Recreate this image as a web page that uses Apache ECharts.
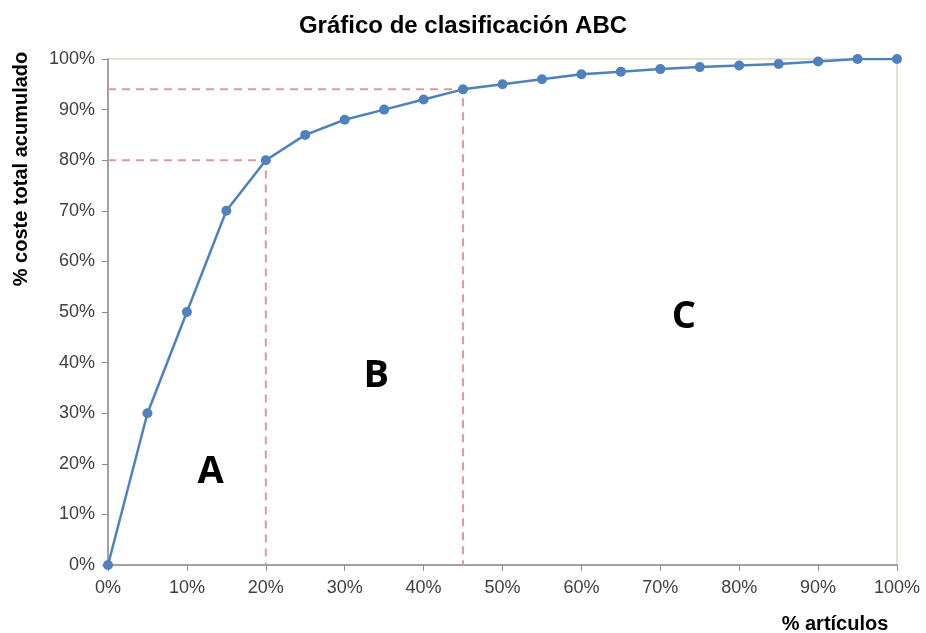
<!DOCTYPE html>
<html>
<head>
<meta charset="utf-8">
<script src="https://cdn.jsdelivr.net/npm/echarts@6/dist/echarts.min.js"></script>
<style>html,body{margin:0;padding:0;background:#fff}#c{width:926px;height:633px}</style>
</head>
<body>
<div id="c"></div>
<script>
// Data
const articlesPct = [0,5,10,15,20,25,30,35,40,45,50,55,60,65,70,75,80,85,90,95,100];
const cumulativeCostPct = [0,30,50,70,80,85,88,90,92,94,95,96,97,97.5,98,98.4,98.7,99,99.5,100,100];
const thresholdsX = [20,45];
const thresholdsY = [80,94];
const zoneLabels = ['A','B','C'];
const zoneLabelX = [13,34,73];
const zoneLabelY = [18.4,37.4,49];
const xTicks = [0,10,20,30,40,50,60,70,80,90,100];
const yTicks = [0,10,20,30,40,50,60,70,80,90,100];

const chart = echarts.init(document.getElementById('c'), null, {renderer:'canvas'});
const font = '"Liberation Sans", Arial, sans-serif';

const dashSeries = thresholdsX.map((tx,i)=>({
  type:'line',
  data:[[0,thresholdsY[i]],[tx,thresholdsY[i]],[tx,0]],
  symbol:'none',
  lineStyle:{color:'#dd9a9a',width:2,type:[8,6]},
  z:1,
  silent:true
}));

chart.setOption({
  animation:false,
  backgroundColor:'#fff',
  title:{
    text:'Gráfico de clasificación ABC',
    left:'center', top:9,
    textStyle:{fontFamily:font,fontSize:24,fontWeight:'bold',color:'#000'}
  },
  grid:{left:108,right:29,top:59,bottom:68,show:true,borderColor:'#ddd9c3',borderWidth:1.5},
  xAxis:{
    type:'value', min:xTicks[0], max:xTicks[xTicks.length-1], interval:10,
    axisLine:{show:true,lineStyle:{color:'#8c8c8c',width:1.5}},
    axisTick:{show:true,length:6,lineStyle:{color:'#8c8c8c'}},
    splitLine:{show:false},
    axisLabel:{formatter:'{value}%',fontFamily:font,fontSize:18,color:'#404040',margin:14}
  },
  yAxis:{
    type:'value', min:yTicks[0], max:yTicks[yTicks.length-1], interval:10,
    axisLine:{show:true,lineStyle:{color:'#8c8c8c',width:1.5}},
    axisTick:{show:true,length:6,lineStyle:{color:'#8c8c8c'}},
    splitLine:{show:false},
    axisLabel:{formatter:'{value}%',fontFamily:font,fontSize:18,color:'#404040',margin:13}
  },
  graphic:[
    {type:'text',x:21,y:169,rotation:Math.PI/2,
     style:{text:'% coste total acumulado',fontFamily:font,fontSize:20,fontWeight:'bold',fill:'#000',align:'center',verticalAlign:'middle'}},
    {type:'text',x:835,y:624,
     style:{text:'% artículos',fontFamily:font,fontSize:20,fontWeight:'bold',fill:'#000',align:'center',verticalAlign:'middle'}}
  ],
  series:[
    ...dashSeries,
    {
      type:'line',
      data:articlesPct.map((x,i)=>[x,cumulativeCostPct[i]]),
      symbol:'circle', symbolSize:10,
      itemStyle:{color:'#4f81bd'},
      lineStyle:{color:'#4f81bd',width:2.5},
      z:3
    },
    {
      type:'scatter',
      data:zoneLabels.map((t,i)=>({value:[zoneLabelX[i],zoneLabelY[i]],name:t})),
      symbolSize:1,
      itemStyle:{opacity:0},
      label:{show:true,position:'inside',formatter:'{b}',fontFamily:'"Open Sans", sans-serif',fontWeight:'bold',fontSize:38,color:'#000000',opacity:1,textBorderWidth:0},
      z:4,
      silent:true
    }
  ]
});
</script>
</body>
</html>
